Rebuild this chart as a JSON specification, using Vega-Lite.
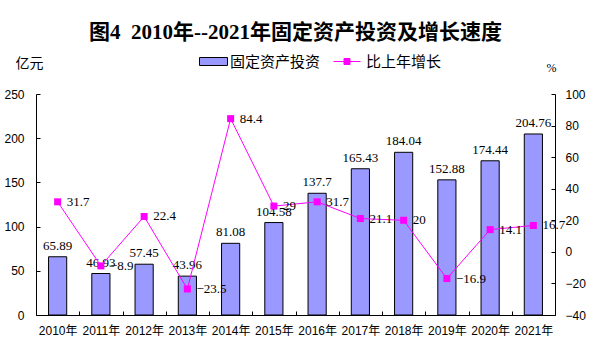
{
  "$schema": "https://vega.github.io/schema/vega-lite/v6.json",
  "width": 519,
  "height": 221,
  "autosize": "none",
  "padding": {"left": 36, "top": 94, "right": 36, "bottom": 39},
  "background": "white",
  "title": {
    "text": "图4\u00a0\u00a02010年--2021年固定资产投资及增长速度",
    "font": "Liberation Serif, Noto Sans CJK SC",
    "fontSize": 21,
    "fontWeight": "bold",
    "color": "#000000",
    "anchor": "middle",
    "offset": 11
  },
  "data": {
    "values": [
      {"year": "2010年", "invest": 65.89, "growth": 31.7},
      {"year": "2011年", "invest": 46.93, "growth": -8.9},
      {"year": "2012年", "invest": 57.45, "growth": 22.4},
      {"year": "2013年", "invest": 43.96, "growth": -23.5},
      {"year": "2014年", "invest": 81.08, "growth": 84.4},
      {"year": "2015年", "invest": 104.58, "growth": 29},
      {"year": "2016年", "invest": 137.7, "growth": 31.7},
      {"year": "2017年", "invest": 165.43, "growth": 21.1},
      {"year": "2018年", "invest": 184.04, "growth": 20},
      {"year": "2019年", "invest": 152.88, "growth": -16.9},
      {"year": "2020年", "invest": 174.44, "growth": 14.1},
      {"year": "2021年", "invest": 204.76, "growth": 16.7}
    ]
  },
  "encoding": {
    "x": {
      "field": "year",
      "type": "ordinal",
      "sort": null,
      "scale": {"paddingInner": 0, "paddingOuter": 0},
      "axis": {
        "title": null,
        "labelAngle": 0,
        "labelFont": "Liberation Sans, Noto Sans CJK SC",
        "labelFontSize": 12,
        "labelColor": "#000000",
        "labelOverlap": false,
        "tickBand": "extent",
        "tickSize": -4,
        "labelPadding": 14,
        "domainColor": "#000000",
        "tickColor": "#000000",
        "grid": false
      }
    }
  },
  "layer": [
    {
      "encoding": {
        "y": {
          "field": "invest",
          "type": "quantitative",
          "scale": {"domain": [0, 250], "nice": false},
          "axis": {
            "orient": "left",
            "values": [0, 50, 100, 150, 200, 250],
            "title": "亿元",
            "titleAngle": 0,
            "titleX": -7,
            "titleY": -31,
            "titleAlign": "center",
            "titleBaseline": "middle",
            "titleFont": "Noto Sans CJK SC",
            "titleFontSize": 14,
            "titleFontWeight": "normal",
            "titleColor": "#000000",
            "labelFont": "Liberation Sans",
            "labelFontSize": 12,
            "labelColor": "#000000",
            "labelOverlap": false,
            "tickSize": -4,
            "labelPadding": 16,
            "domainColor": "#000000",
            "tickColor": "#000000",
            "grid": false
          }
        }
      },
      "layer": [
        {
          "mark": {"type": "bar", "width": {"band": 0.42}, "stroke": "#000000", "strokeWidth": 1},
          "encoding": {
            "fill": {
              "datum": "固定资产投资",
              "type": "nominal",
              "scale": {"range": ["#9999ff"]},
              "legend": {
                "title": null,
                "orient": "none",
                "legendX": 170,
                "legendY": -40,
                "symbolType": "M-2,-0.57H2V0.57H-2Z",
                "symbolSize": 196,
                "symbolStrokeColor": "#000000",
                "symbolStrokeWidth": 1,
                "labelOffset": 9,
                "labelFont": "Noto Sans CJK SC",
                "labelFontSize": 15,
                "labelColor": "#000000"
              }
            }
          }
        },
        {
          "mark": {"type": "text", "dy": -11, "baseline": "middle", "align": "center", "font": "Liberation Serif", "fontSize": 13, "color": "#000000"},
          "encoding": {
            "text": {"field": "invest", "type": "quantitative"}
          }
        }
      ]
    },
    {
      "encoding": {
        "y": {
          "field": "growth",
          "type": "quantitative",
          "scale": {"domain": [-40, 100], "nice": false},
          "axis": {
            "orient": "right",
            "values": [-40, -20, 0, 20, 40, 60, 80, 100],
            "title": "%",
            "titleAngle": 0,
            "titleX": -4,
            "titleY": -27,
            "titleAlign": "center",
            "titleBaseline": "middle",
            "titleFont": "Liberation Serif",
            "titleFontSize": 12,
            "titleFontWeight": "normal",
            "titleColor": "#000000",
            "labelFont": "Liberation Sans",
            "labelFontSize": 12,
            "labelColor": "#000000",
            "labelOverlap": false,
            "labelFlush": false,
            "tickSize": -4,
            "labelPadding": 14,
            "domainColor": "#000000",
            "tickColor": "#000000",
            "grid": false
          }
        }
      },
      "layer": [
        {
          "mark": {"type": "line", "strokeWidth": 1},
          "encoding": {
            "stroke": {
              "datum": "比上年增长",
              "type": "nominal",
              "scale": {"range": ["#ff00ff"]},
              "legend": {
                "title": null,
                "orient": "none",
                "legendX": 303.5,
                "legendY": -40,
                "symbolType": "M-1.93,0H1.93M-0.43,-0.43H0.43V0.43H-0.43Z",
                "symbolSize": 196,
                "symbolStrokeWidth": 1,
                "symbolFillColor": "#ff00ff",
                "labelOffset": 11.5,
                "labelFont": "Noto Sans CJK SC",
                "labelFontSize": 15,
                "labelColor": "#000000",
                "encode": {"symbols": {"update": {"fill": {"value": "#ff00ff"}}}}
              }
            }
          }
        },
        {
          "mark": {"type": "point", "shape": "square", "size": 49, "filled": true, "color": "#ff00ff", "opacity": 1}
        },
        {
          "mark": {"type": "text", "dx": 9, "baseline": "middle", "align": "left", "font": "Liberation Serif", "fontSize": 13, "color": "#000000"},
          "encoding": {
            "text": {"field": "growth", "type": "quantitative"}
          }
        }
      ]
    }
  ],
  "resolve": {"scale": {"y": "independent"}},
  "config": {"view": {"stroke": null}}
}
